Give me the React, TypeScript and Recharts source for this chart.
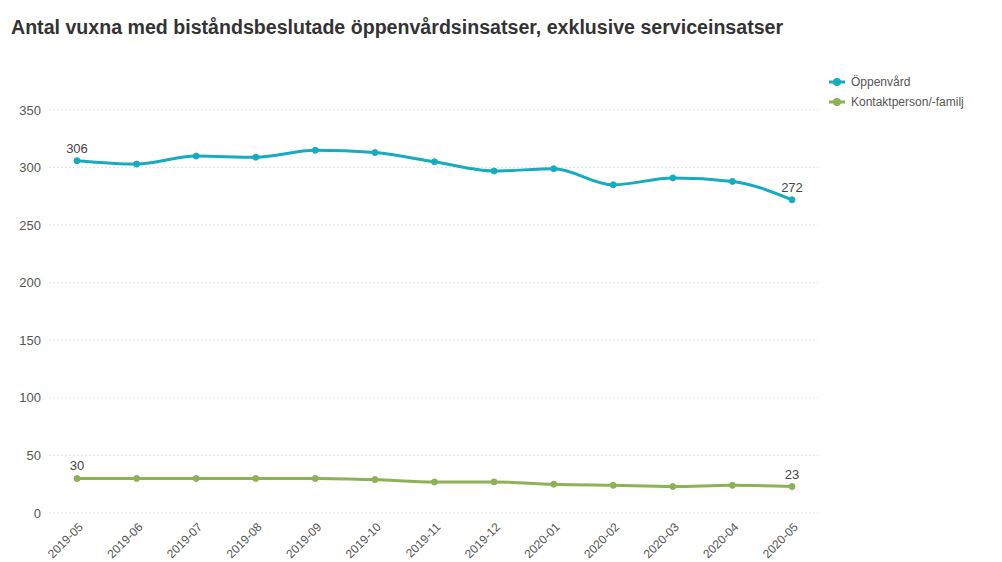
import { LineChart, Line, XAxis, YAxis, CartesianGrid, LabelList } from "recharts";

const months = [
  "2019-05", "2019-06", "2019-07", "2019-08", "2019-09", "2019-10", "2019-11",
  "2019-12", "2020-01", "2020-02", "2020-03", "2020-04", "2020-05",
];
const oppenvard = [306, 303, 310, 309, 315, 313, 305, 297, 299, 285, 291, 288, 272];
const kontakt = [30, 30, 30, 30, 30, 29, 27, 27, 25, 24, 23, 24, 23];
const yTicks = [0, 50, 100, 150, 200, 250, 300, 350];

const BLUE = "#17abc0";
const GREEN = "#8db256";
const FONT = "'Liberation Sans', Arial, sans-serif";

const data = months.map((m, i) => ({ month: m, oppenvard: oppenvard[i], kontakt: kontakt[i] }));

function XTick(props: any) {
  const { x, y, payload } = props;
  return (
    <text
      x={x + 4}
      y={y + 4}
      transform={`rotate(-45, ${x + 4}, ${y + 4})`}
      textAnchor="end"
      dominantBaseline="central"
      fontSize={12}
      fill="#555"
      fontFamily={FONT}
    >
      {payload.value}
    </text>
  );
}

function endLabel(props: any) {
  const { x, y, value, index } = props;
  if (index !== 0 && index !== months.length - 1) return null;
  return (
    <text x={x} y={y - 8} textAnchor="middle" fontSize={13} fill="#444" fontFamily={FONT}>
      {value}
    </text>
  );
}

function LegendItem({ color, label, top }: { color: string; label: string; top: number }) {
  return (
    <div style={{ position: "absolute", left: 829, top, display: "flex", alignItems: "center", fontSize: 12, color: "#555", fontFamily: FONT }}>
      <svg width={16} height={10} style={{ marginRight: 6 }}>
        <line x1={0} y1={5} x2={16} y2={5} stroke={color} strokeWidth={3} />
        <circle cx={8} cy={5} r={4} fill={color} />
      </svg>
      {label}
    </div>
  );
}

export default function App() {
  return (
    <div style={{ position: "absolute", left: 0, top: 0, width: 1002, height: 562, background: "#fff" }}>
      <div
        style={{
          position: "absolute",
          left: 11,
          top: 16,
          fontSize: 19.6,
          fontWeight: "bold",
          color: "#333",
          fontFamily: FONT,
          whiteSpace: "nowrap",
        }}
      >
        Antal vuxna med biståndsbeslutade öppenvårdsinsatser, exklusive serviceinsatser
      </div>
      <LegendItem color={BLUE} label="Öppenvård" top={75} />
      <LegendItem color={GREEN} label="Kontaktperson/-familj" top={95} />
      <div style={{ position: "absolute", left: 0, top: 0 }}>
        <LineChart width={1002} height={562} data={data} margin={{ top: 110, right: 184, bottom: 0, left: 0 }}>
          <CartesianGrid vertical={false} stroke="#e2e2e2" strokeDasharray="2 2" />
          <XAxis
            dataKey="month"
            axisLine={false}
            tickLine={false}
            padding={{ left: 28, right: 26 }}
            height={49}
            interval={0}
            tick={<XTick />}
          />
          <YAxis
            domain={[0, 350]}
            ticks={yTicks}
            axisLine={false}
            tickLine={false}
            width={49}
            tick={{ fontSize: 13, fill: "#555", fontFamily: FONT }}
          />
          <Line
            type="monotone"
            dataKey="oppenvard"
            stroke={BLUE}
            strokeWidth={3}
            dot={{ r: 3, fill: BLUE, stroke: BLUE, strokeWidth: 1 }}
            isAnimationActive={false}
          >
            <LabelList dataKey="oppenvard" content={endLabel} />
          </Line>
          <Line
            type="monotone"
            dataKey="kontakt"
            stroke={GREEN}
            strokeWidth={3}
            dot={{ r: 3, fill: GREEN, stroke: GREEN, strokeWidth: 1 }}
            isAnimationActive={false}
          >
            <LabelList dataKey="kontakt" content={endLabel} />
          </Line>
        </LineChart>
      </div>
    </div>
  );
}
